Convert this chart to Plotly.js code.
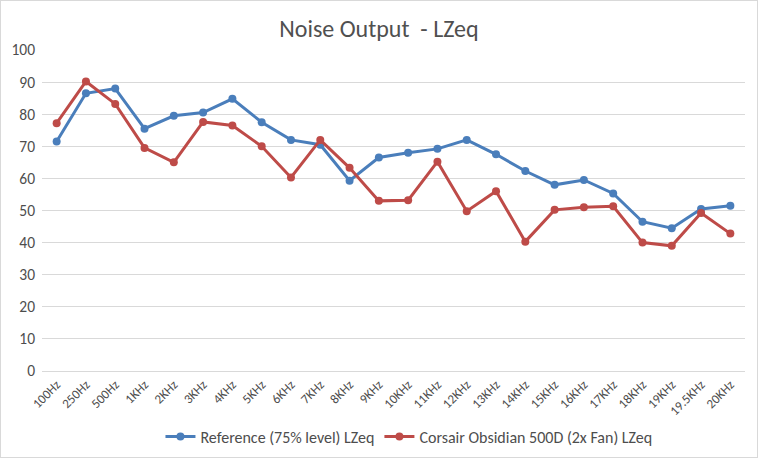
<!DOCTYPE html>
<html>
<head>
<meta charset="utf-8">
<script src="https://cdn.plot.ly/plotly-3.0.1.min.js"></script>
<style>
html,body{margin:0;padding:0;background:#fff;}
#chart{width:756px;height:456px;border:1px solid #d9d9d9;}
</style>
</head>
<body>
<div id="chart"></div>
<script>
const categories = ["100Hz","250Hz","500Hz","1KHz","2KHz","3KHz","4KHz","5KHz","6KHz","7KHz","8KHz","9KHz","10KHz","11KHz","12KHz","13KHz","14KHz","15KHz","16KHz","17KHz","18KHz","19KHz","19.5KHz","20KHz"];
const referenceValues = [71.5,86.5,88.0,75.5,79.5,80.5,84.8,77.5,72.0,70.5,59.3,66.5,68.0,69.2,72.0,67.5,62.3,58.0,59.5,55.3,46.5,44.5,50.5,51.5];
const corsairValues = [77.2,90.2,83.2,69.5,65.0,77.6,76.5,70.0,60.3,72.0,63.3,53.0,53.2,65.2,49.8,56.0,40.3,50.2,51.0,51.3,40.0,39.0,49.2,42.8];
const yTicks = [0,10,20,30,40,50,60,70,80,90,100];

const font = "Carlito, Lato, 'Open Sans', sans-serif";
const txt = "#4d4d4d";
const traces = [
  {x: categories, y: referenceValues, name: "Reference (75% level) LZeq", type: "scatter", mode: "lines+markers",
   line: {color: "#4a7ebb", width: 3}, marker: {color: "#4a7ebb", size: 8}},
  {x: categories, y: corsairValues, name: "Corsair Obsidian 500D (2x Fan) LZeq", type: "scatter", mode: "lines+markers",
   line: {color: "#be4b48", width: 3}, marker: {color: "#be4b48", size: 8}}
];
const layout = {
  width: 756, height: 456,
  margin: {l: 41, r: 12, t: 49, b: 86},
  paper_bgcolor: "#fff", plot_bgcolor: "#fff",
  font: {family: font, color: txt, size: 15},
  title: {text: "Noise Output  - LZeq", font: {family: font, size: 24, color: "#505050"}, x: 0.5, xanchor: "center", y: 0.94, yanchor: "middle"},
  xaxis: {type: "category", range: [-0.5, categories.length - 0.5], tickangle: -45, showgrid: false, showline: true, linecolor: "#d9d9d9", linewidth: 1,
          ticks: "", tickfont: {size: 13, color: txt}, fixedrange: true, automargin: false},
  yaxis: {range: [0, 100], tickvals: yTicks, showgrid: true, gridcolor: "#d9d9d9", gridwidth: 1, zeroline: false,
          showline: false, ticks: "", tickfont: {size: 15.5, color: txt}, fixedrange: true, automargin: false, ticklabelstandoff: 6},
  legend: {orientation: "h", x: 0.522, xanchor: "center", yref: "container", y: 0.045, yanchor: "middle", font: {size: 16, color: txt}},
  showlegend: true
};
Plotly.newPlot("chart", traces, layout, {displayModeBar: false, staticPlot: true});
</script>
</body>
</html>
